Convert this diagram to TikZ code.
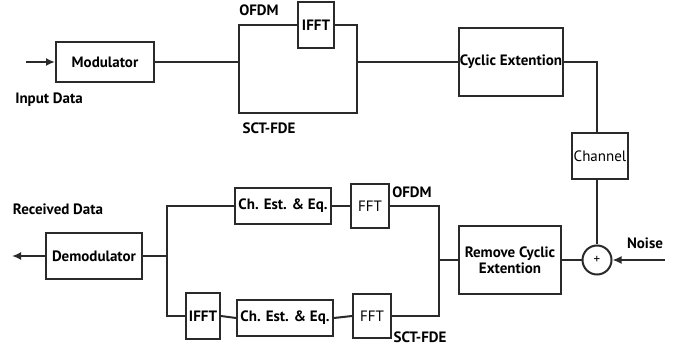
\documentclass[tikz,border=0pt]{standalone}
\usepackage{fontspec}
\setmainfont{PT Sans}
\usetikzlibrary{arrows.meta}
\definecolor{ln}{HTML}{2A2A2A}
\begin{document}
\begin{tikzpicture}[x=1pt,y=-1pt,
  blk/.style={draw=ln,line width=2pt,rectangle,inner sep=0pt,font=\fontsize{15}{16}\selectfont\bfseries,align=center},
  blkr/.style={blk,font=\fontsize{15}{16}\selectfont},
  lbl/.style={inner sep=0pt,font=\fontsize{15}{16}\selectfont\bfseries},
  wire/.style={draw=ln,line width=2pt},
  arr/.style={wire,-{Latex[length=9pt,width=8pt]}}]
\useasboundingbox (0,0) rectangle (690,352);
% nodes
\node[blk,minimum width=98pt,minimum height=40pt] (mod) at (105,62) {Modulator};
\node[blk,minimum width=36pt,minimum height=46pt] (ifft1) at (316,25) {IFFT};
\node[blk,minimum width=104pt,minimum height=68pt] (cyc) at (511,62) {Cyclic Extention};
\node[blkr,minimum width=56pt,minimum height=46pt] (ch) at (600,156) {Channel};
\node[draw=ln,line width=2pt,circle,minimum size=29pt,inner sep=0pt,font=\fontsize{13}{14}\selectfont] (plus) at (597,260) {+};
\node[blk,minimum width=102pt,minimum height=68pt] (rem) at (510,260) {Remove Cyclic\\Extention};
\node[blkr,minimum width=38pt,minimum height=44pt] (fft1) at (370,206) {FFT};
\node[blkr,minimum width=38pt,minimum height=44pt] (fft2) at (372,316) {FFT};
\node[blk,minimum width=96pt,minimum height=36pt] (ce1) at (283,206) {Ch. Est. \& Eq.};
\node[blk,minimum width=96pt,minimum height=36pt] (ce2) at (285,318) {Ch. Est. \& Eq.};
\node[blk,minimum width=34pt,minimum height=46pt] (ifft2) at (203,316) {IFFT};
\node[blk,minimum width=96pt,minimum height=46pt] (dem) at (94,256) {Demodulator};
% labels
\node[lbl] (l1) at (259,10) {OFDM};
\node[lbl] (l2) at (269,128) {SCT-FDE};
\node[lbl] (l3) at (49,100) {Input Data};
\node[lbl] (l4) at (58,209) {Received Data};
\node[lbl] (l5) at (645,243) {Noise};
\node[lbl] (l6) at (412,192) {OFDM};
\node[lbl] (l7) at (420,337) {SCT-FDE};
% coordinates
\coordinate (in) at (26,62);
\coordinate (out) at (12,256);
\coordinate (nz) at (665,260);
\coordinate (j1) at (239,62);
\coordinate (b1) at (239,113);
\coordinate (b2) at (357,113);
\coordinate (j2) at (357,62);
\coordinate (j3) at (439,260);
\coordinate (k2) at (439,316);
\coordinate (j4) at (167,256);
\coordinate (k4) at (167,316);
% wires
\draw[arr] (in) -- (mod.west);
\draw[wire] (mod.east) -- (j1);
\draw[wire] (ifft1.west) -| (b1) -- (b2) |- (ifft1.east);
\draw[wire] (j2) -- (cyc.west);
\draw[wire] (cyc.east) -| ([xshift=-3pt]ch.north);
\draw[wire] ([xshift=-3pt]ch.south) -- (plus.north);
\draw[arr] (nz) -- (plus.east);
\draw[wire] (plus.west) -- (rem.east);
\draw[wire] (rem.west) -- (j3);
\draw[wire] (fft1.east) -| (k2) -- (fft2.east);
\draw[wire] (ce1.east) -- (fft1.west);
\draw[wire] (ce2.east) -- (fft2.west);
\draw[wire] (ifft2.east) -- (ce2.west);
\draw[wire] (ce1.west) -| (k4) -- (ifft2.west);
\draw[wire] (dem.east) -- (j4);
\draw[arr] (dem.west) -- (out);
\end{tikzpicture}
\end{document}
